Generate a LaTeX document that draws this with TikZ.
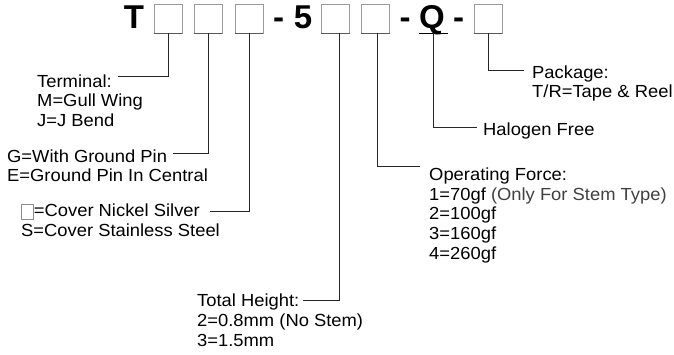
\documentclass[tikz,border=0pt]{standalone}
\usepackage{fontspec}
\setmainfont{Liberation Sans}
\newfontfamily\lblfont{Liberation Sans}[FakeStretch=1.05]
\newcommand{\graysq}{\raisebox{-2.3pt}{\color{black!45}\setlength{\fboxrule}{0.7pt}\setlength{\fboxsep}{0pt}\fbox{\hspace{11.3pt}\rule{0pt}{14.3pt}}}}
\begin{document}
\begin{tikzpicture}[x=1pt,y=-1pt]
\useasboundingbox (0,0) rectangle (674,354);
\tikzset{
  pbox/.style={draw=black!40, line width=0.7pt, minimum width=28pt, minimum height=28.5pt, inner sep=0pt},
  big/.style={font=\fontsize{33}{36}\selectfont\bfseries, inner sep=0pt, anchor=base},
  lbl/.style={font=\lblfont\fontsize{17.5}{19.6}\selectfont, align=left, inner sep=0pt, anchor=base west},
  conn/.style={draw=black!85, line width=0.9pt},
}
% part number
\node[big] (T) at (134,28.3) {T};
\node[pbox] (b1) at (168,18.75) {};
\node[pbox] (b2) at (208,18.75) {};
\node[pbox] (b3) at (249,18.75) {};
\node[big] (d1) at (278.5,28.3) {-};
\node[big] (five) at (303,28.3) {5};
\node[pbox] (b4) at (335.5,18.75) {};
\node[pbox] (b5) at (375.5,18.75) {};
\node[big] (d2) at (405,28.3) {-};
\node[big] (Q) at (432,28.3) {Q};
\node[big] (d3) at (458.5,28.3) {-};
\node[pbox] (b6) at (488,18.75) {};
\foreach \b in {b1,b2,b3,b4,b5,b6}
  \draw[black!65, line width=1.4pt] (\b.south west) -- (\b.south east);
\coordinate (qL) at (419,33);
\coordinate (qR) at (448,33);
\coordinate (qM) at (433,33);
\draw[line width=1pt] (qL) -- (qR);

% labels (anchored at the baseline of their last line)
\node[lbl] (term) at (37,126.3) {Terminal:\\M=Gull Wing\\J=J Bend};
\node[lbl] (gnd) at (7,181.8) {G=With Ground Pin\\E=Ground Pin In Central};
\node[lbl] (cover) at (21,236) {\graysq=Cover Nickel Silver\\S=Cover Stainless Steel};
\node[lbl] (height) at (197,346) {Total Height:\\2=0.8mm (No Stem)\\3=1.5mm};
\node[lbl] (force) at (429,259) {Operating Force:\\1=70gf {\color{black!75}(Only For Stem Type)}\\2=100gf\\3=160gf\\4=260gf};
\node[lbl] (halo) at (483,135.7) {Halogen Free};
\node[lbl] (pkg) at (532,97.8) {Package:\\T/R=Tape \& Reel};

% connector ends
\coordinate (termE) at (118,76.7);
\coordinate (gndE) at (173,153.3);
\coordinate (coverE) at (210,211.7);
\coordinate (heightE) at (303,300);
\coordinate (forceE) at (420,166);
\coordinate (haloE) at (477,127.3);
\coordinate (pkgE) at (524,70.7);

\draw[conn] (b1.south) |- (termE);
\draw[conn] (b2.south) |- (gndE);
\draw[conn] (b3.south) |- (coverE);
\draw[conn] ([xshift=4pt]b4.south) |- (heightE);
\draw[conn] ([xshift=2pt]b5.south) |- (forceE);
\draw[conn] (qM) |- (haloE);
\draw[conn] (b6.south) |- (pkgE);
\end{tikzpicture}
\end{document}
